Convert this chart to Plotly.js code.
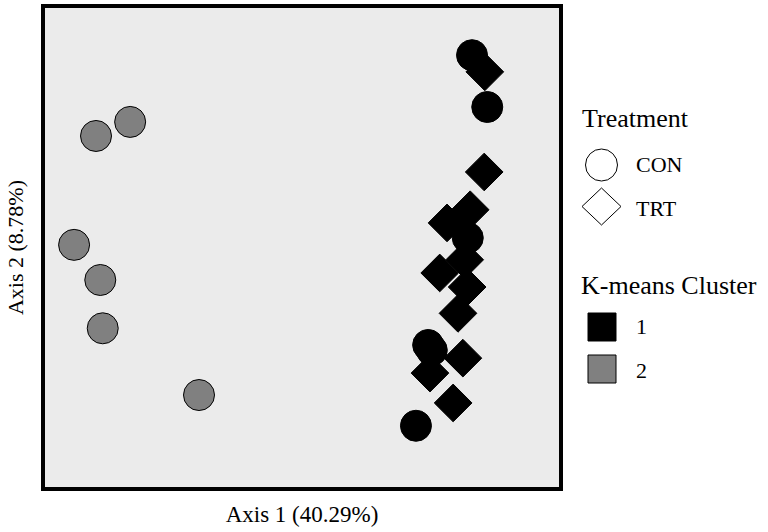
<!DOCTYPE html>
<html>
<head>
<meta charset="utf-8">
<script src="https://cdn.plot.ly/plotly-3.0.1.min.js"></script>
<style>html,body{margin:0;padding:0;background:#fff;}#chart{width:768px;height:532px;}</style>
</head>
<body>
<div id="chart"></div>
<script>
// Cluster 2 (gray), treatment CON
const c2_con_x = [-0.363, -0.307, -0.399, -0.356, -0.352, -0.194];
const c2_con_y = [0.102, 0.118, -0.022, -0.062, -0.117, -0.193];
// Cluster 1 (black), treatment CON
const c1_con_x = [0.254, 0.279, 0.247, 0.182, 0.188, 0.162];
const c1_con_y = [0.194, 0.135, -0.014, -0.136, -0.142, -0.228];
// Cluster 1 (black), treatment TRT
const c1_trt_x = [0.275, 0.274, 0.251, 0.213, 0.242, 0.201, 0.246, 0.231, 0.239, 0.185, 0.223];
const c1_trt_y = [0.175, 0.061, 0.018, 0.003, -0.039, -0.054, -0.070, -0.100, -0.151, -0.168, -0.202];

const treatmentLabels = ["CON", "TRT"];
const clusterLabels = ["1", "2"];
const clusterColors = ["#000000", "#808080"];
const xTitle = "Axis 1 (40.29%)";
const yTitle = "Axis 2 (8.78%)";

const FONT = "'Liberation Serif', 'Times New Roman', Times, serif";
const MS = 31;

const traces = [
  {x: c2_con_x, y: c2_con_y, type: 'scatter', mode: 'markers', showlegend: false,
   marker: {symbol: 'circle', size: MS, color: clusterColors[1], line: {color: '#000', width: 1}}},
  {x: c1_con_x, y: c1_con_y, type: 'scatter', mode: 'markers', showlegend: false,
   marker: {symbol: 'circle', size: MS, color: clusterColors[0], line: {color: '#000', width: 1}}},
  {x: c1_trt_x, y: c1_trt_y, type: 'scatter', mode: 'markers', showlegend: false,
   marker: {symbol: 'diamond', size: 29, color: clusterColors[0], line: {color: '#000', width: 1}}}
];

const L = 43, T = 6, W = 518, H = 483;
function px2x(px){ return (px - L) / W; }
function py2y(py){ return (T + H - py) / H; }

const shapes = [
  {type: 'rect', xref: 'paper', yref: 'paper', x0: 0, x1: 1, y0: 0, y1: 1,
   line: {color: '#000', width: 4}, layer: 'above'},
  // legend: Treatment
  {type: 'circle', xref: 'paper', yref: 'paper', xsizemode: 'pixel', ysizemode: 'pixel',
   xanchor: px2x(601.5), yanchor: py2y(165), x0: -16, x1: 16, y0: -16, y1: 16,
   line: {color: '#000', width: 1}, fillcolor: '#fff'},
  {type: 'path', xref: 'paper', yref: 'paper', xsizemode: 'pixel', ysizemode: 'pixel',
   xanchor: px2x(601.5), yanchor: py2y(206.5),
   path: 'M -19.5,0 L 0,18.5 L 19.5,0 L 0,-18.5 Z',
   line: {color: '#000', width: 1}, fillcolor: '#fff'},
  // legend: K-means Cluster
  {type: 'rect', xref: 'paper', yref: 'paper', xsizemode: 'pixel', ysizemode: 'pixel',
   xanchor: px2x(602), yanchor: py2y(327), x0: -14, x1: 14, y0: -14, y1: 14,
   line: {color: '#000', width: 1}, fillcolor: clusterColors[0]},
  {type: 'rect', xref: 'paper', yref: 'paper', xsizemode: 'pixel', ysizemode: 'pixel',
   xanchor: px2x(602), yanchor: py2y(369), x0: -14, x1: 14, y0: -14, y1: 14,
   line: {color: '#000', width: 1}, fillcolor: clusterColors[1]}
];

function ann(text, px, py, size){
  return {text: text, xref: 'paper', yref: 'paper', x: px2x(px), y: py2y(py),
    xanchor: 'left', yanchor: 'middle', showarrow: false,
    font: {family: FONT, size: size, color: '#000'}};
}

const annotations = [
  ann('Treatment', 580, 119, 26),
  ann(treatmentLabels[0], 634, 164, 22),
  ann(treatmentLabels[1], 634, 208, 22),
  ann('K-means Cluster', 579, 285, 26),
  ann(clusterLabels[0], 634, 326, 22),
  ann(clusterLabels[1], 634, 370, 22)
];

const layout = {
  width: 768, height: 532,
  margin: {l: L, r: 768 - L - W, t: T, b: 532 - T - H, pad: 0},
  paper_bgcolor: '#fff',
  plot_bgcolor: '#ebebeb',
  showlegend: false,
  font: {family: FONT, color: '#000'},
  xaxis: {range: [-0.45, 0.40], showgrid: false, zeroline: false, showticklabels: false,
          ticks: '', showline: false,
          title: {text: xTitle, font: {family: FONT, size: 23, color: '#000'}, standoff: 16}},
  yaxis: {range: [-0.30, 0.25], showgrid: false, zeroline: false, showticklabels: false,
          ticks: '', showline: false,
          title: {text: yTitle, font: {family: FONT, size: 22, color: '#000'}, standoff: 12}},
  shapes: shapes,
  annotations: annotations
};

Plotly.newPlot('chart', traces, layout, {displayModeBar: false, staticPlot: true});
</script>
</body>
</html>
